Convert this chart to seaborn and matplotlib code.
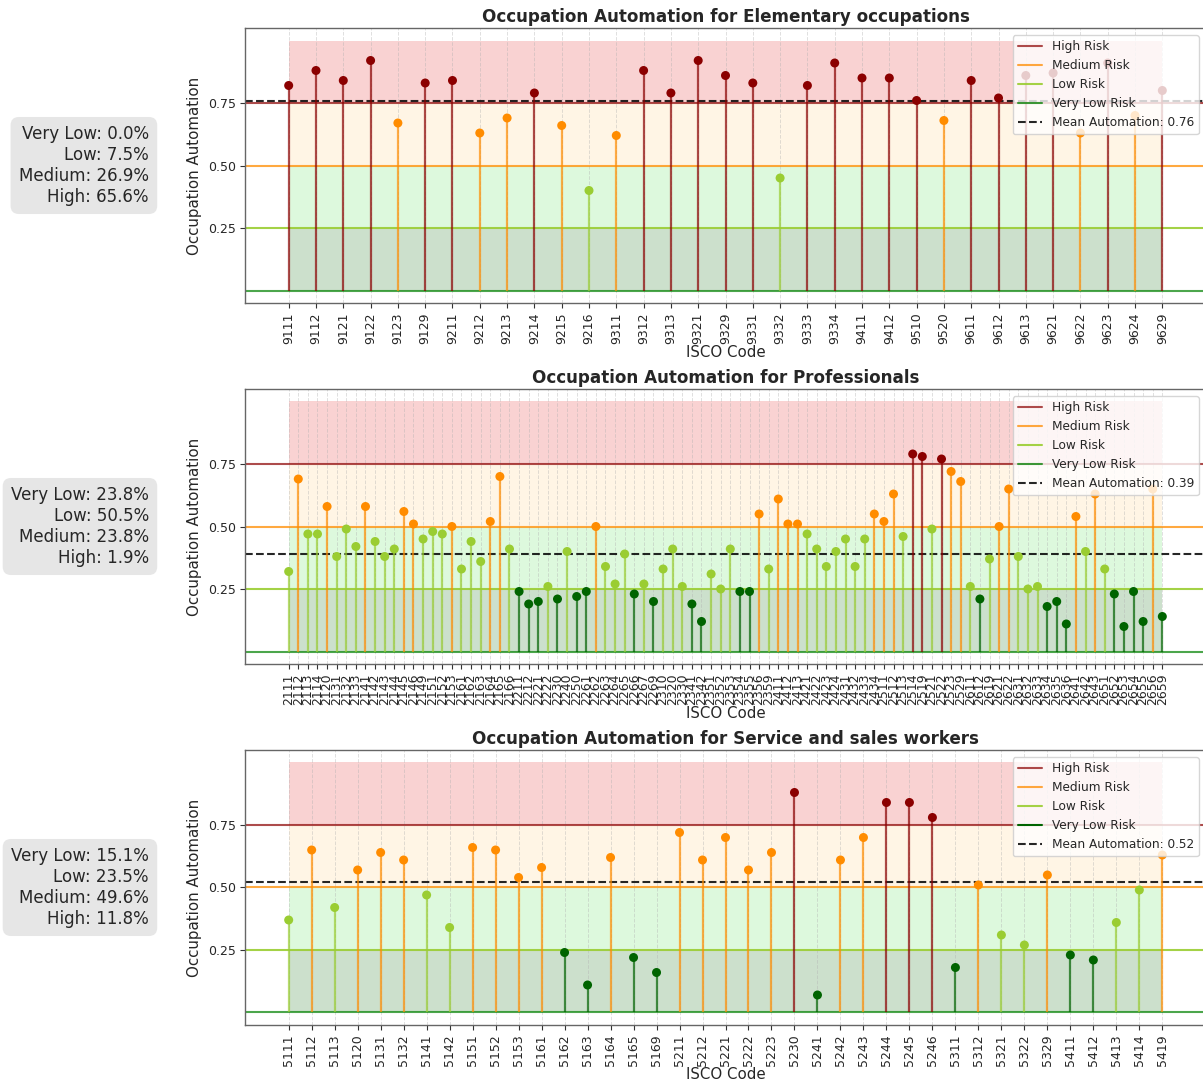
import numpy as np
import pandas as pd
import matplotlib
matplotlib.use("Agg")
import matplotlib.pyplot as plt
import seaborn as sns
from matplotlib.lines import Line2D

# ---- data -------------------------------------------------------------
elementary_codes = ["9111", "9112", "9121", "9122", "9123", "9129", "9211", "9212",
                    "9213", "9214", "9215", "9216", "9311", "9312", "9313", "9321",
                    "9329", "9331", "9332", "9333", "9334", "9411", "9412", "9510",
                    "9520", "9611", "9612", "9613", "9621", "9622", "9623", "9624",
                    "9629"]
elementary_values = [0.82, 0.88, 0.84, 0.92, 0.67, 0.83, 0.84, 0.63,
                     0.69, 0.79, 0.66, 0.40, 0.62, 0.88, 0.79, 0.92,
                     0.86, 0.83, 0.45, 0.82, 0.91, 0.85, 0.85, 0.76,
                     0.68, 0.84, 0.77, 0.86, 0.87, 0.63, 0.91, 0.70,
                     0.80]

professional_codes = ["2111", "2112", "2113", "2114", "2120", "2131", "2132", "2133",
                      "2141", "2142", "2143", "2144", "2145", "2146", "2149", "2151",
                      "2152", "2153", "2161", "2162", "2163", "2164", "2165", "2166",
                      "2211", "2212", "2221", "2222", "2230", "2240", "2250", "2261",
                      "2262", "2263", "2264", "2265", "2266", "2267", "2269", "2310",
                      "2320", "2330", "2341", "2342", "2351", "2352", "2353", "2354",
                      "2355", "2356", "2359", "2411", "2412", "2413", "2421", "2422",
                      "2423", "2424", "2431", "2432", "2433", "2434", "2511", "2512",
                      "2513", "2514", "2519", "2521", "2522", "2523", "2529", "2611",
                      "2612", "2619", "2621", "2622", "2631", "2632", "2633", "2634",
                      "2635", "2636", "2641", "2642", "2643", "2651", "2652", "2653",
                      "2654", "2655", "2656", "2659"]
professional_values = [0.32, 0.69, 0.47, 0.47, 0.58, 0.38, 0.49, 0.42,
                       0.58, 0.44, 0.38, 0.41, 0.56, 0.51, 0.45, 0.48,
                       0.47, 0.50, 0.33, 0.44, 0.36, 0.52, 0.70, 0.41,
                       0.24, 0.19, 0.20, 0.26, 0.21, 0.40, 0.22, 0.24,
                       0.50, 0.34, 0.27, 0.39, 0.23, 0.27, 0.20, 0.33,
                       0.41, 0.26, 0.19, 0.12, 0.31, 0.25, 0.41, 0.24,
                       0.24, 0.55, 0.33, 0.61, 0.51, 0.51, 0.47, 0.41,
                       0.34, 0.40, 0.45, 0.34, 0.45, 0.55, 0.52, 0.63,
                       0.46, 0.79, 0.78, 0.49, 0.77, 0.72, 0.68, 0.26,
                       0.21, 0.37, 0.50, 0.65, 0.38, 0.25, 0.26, 0.18,
                       0.20, 0.11, 0.54, 0.40, 0.63, 0.33, 0.23, 0.10,
                       0.24, 0.12, 0.65, 0.14]

service_codes = ["5111", "5112", "5113", "5120", "5131", "5132", "5141", "5142",
                 "5151", "5152", "5153", "5161", "5162", "5163", "5164", "5165",
                 "5169", "5211", "5212", "5221", "5222", "5223", "5230", "5241",
                 "5242", "5243", "5244", "5245", "5246", "5311", "5312", "5321",
                 "5322", "5329", "5411", "5412", "5413", "5414", "5419"]
service_values = [0.37, 0.65, 0.42, 0.57, 0.64, 0.61, 0.47, 0.34,
                  0.66, 0.65, 0.54, 0.58, 0.24, 0.11, 0.62, 0.22,
                  0.16, 0.72, 0.61, 0.70, 0.57, 0.64, 0.88, 0.07,
                  0.61, 0.70, 0.84, 0.84, 0.78, 0.18, 0.51, 0.31,
                  0.27, 0.55, 0.23, 0.21, 0.36, 0.49, 0.63]

group_names = ["Elementary occupations", "Professionals", "Service and sales workers"]
mean_automation = [0.76, 0.39, 0.52]

risk_levels = ["Very Low", "Low", "Medium", "High"]
elementary_shares = [0.0, 7.5, 26.9, 65.6]
professional_shares = [23.8, 50.5, 23.8, 1.9]
service_shares = [15.1, 23.5, 49.6, 11.8]

risk_bounds = [0.0, 0.25, 0.50, 0.75, 1.0]

# ---- styling ------------------------------------------------------------
sns.set_style("white")
plt.rcParams["font.family"] = ["DejaVu Sans"]

risk_colors = {"High": "darkred", "Medium": "darkorange",
               "Low": "yellowgreen", "Very Low": "darkgreen"}
band_styles = [("darkgreen", 0.2), ("lightgreen", 0.3),
               ("orange", 0.1), ("lightcoral", 0.35)]
line_styles = {0.75: ("darkred", 0.7), 0.50: ("darkorange", 0.75),
               0.25: ("yellowgreen", 0.9), 0.0: ("green", 0.7)}


def risk_of(v):
    if v >= 0.75:
        return "High"
    if v >= 0.5:
        return "Medium"
    if v >= 0.25:
        return "Low"
    return "Very Low"


fig = plt.figure(figsize=(12.03, 10.82), dpi=100)
axes = fig.subplots(3, 1)
fig.subplots_adjust(left=245 / 1203, right=1206 / 1203,
                    top=1 - 28 / 1082, bottom=1 - 1025 / 1082, hspace=0.3127)

groups = [
    (elementary_codes, elementary_values, elementary_shares),
    (professional_codes, professional_values, professional_shares),
    (service_codes, service_values, service_shares),
]

for k, (ax, (codes, values, shares)) in enumerate(zip(axes, groups)):
    df = pd.DataFrame({"code": codes, "value": values})
    df["pos"] = np.arange(len(df))
    df["risk"] = df["value"].map(risk_of)
    n = len(df)

    # shaded risk bands spanning the occupation range
    for (lo, hi), (col, a) in zip(zip(risk_bounds[:-1], risk_bounds[1:]), band_styles):
        ax.fill_between([0, n - 1], lo, hi, color=col, alpha=a, lw=0, zorder=0)

    # threshold lines
    for y, (col, a) in line_styles.items():
        ax.axhline(y, color=col, alpha=a, lw=1.5, zorder=1)

    # mean line
    ax.axhline(mean_automation[k], color="black", ls="--", lw=1.5, alpha=0.85, zorder=2)

    # stems
    for risk, sub in df.groupby("risk"):
        ax.vlines(sub["pos"], 0, sub["value"], colors=risk_colors[risk],
                  alpha=0.7, lw=1.6, zorder=2)

    # markers
    sns.scatterplot(data=df, x="pos", y="value", hue="risk", palette=risk_colors,
                    s=42, edgecolor="none", legend=False, ax=ax, zorder=3)

    ax.set_xticks(df["pos"], df["code"], rotation=90, fontsize=9)
    ax.set_yticks([0.25, 0.50, 0.75], ["0.25", "0.50", "0.75"], fontsize=9)
    ax.tick_params(axis="both", length=3.5, width=0.8, color="#333333",
                   bottom=True, left=True, pad=3)
    ax.set_xlim(-0.05 * (n - 1), (n - 1) * 1.05)
    ax.set_ylim(-0.05, 1.05)
    ax.grid(axis="x", ls="--", lw=0.7, color="#b0b0b0", alpha=0.4)
    for sp in ax.spines.values():
        sp.set_color("#666666")
        sp.set_linewidth(1.0)

    ax.set_xlabel("ISCO Code", fontsize=10.8, labelpad=1)
    ax.set_ylabel("Occupation Automation", fontsize=10.8)
    ax.set_title(f"Occupation Automation for {group_names[k]}",
                 fontsize=12.1, fontweight="bold", pad=4)

    vlow_color = "darkgreen" if k == 2 else "green"
    handles = [
        Line2D([], [], color="darkred", alpha=0.7, lw=1.5),
        Line2D([], [], color="darkorange", alpha=0.75, lw=1.5),
        Line2D([], [], color="yellowgreen", alpha=0.9, lw=1.5),
        Line2D([], [], color=vlow_color, alpha=0.75 if k != 2 else 1.0, lw=1.5),
        Line2D([], [], color="black", ls="--", lw=1.5, alpha=0.85),
    ]
    labels = ["High Risk", "Medium Risk", "Low Risk", "Very Low Risk",
              f"Mean Automation: {mean_automation[k]:.2f}"]
    leg = ax.legend(handles, labels, loc="upper right", fontsize=8.7,
                    framealpha=0.8, borderaxespad=0.6)
    leg.set_zorder(5)

    summary = "\n".join(f"{lvl}: {pct:.1f}%" for lvl, pct in zip(risk_levels, shares))
    ax.text(-0.1, 0.5, summary, transform=ax.transAxes, ha="right", va="center",
            fontsize=12, multialignment="right",
            bbox=dict(boxstyle="round,pad=0.5", facecolor="lightgray",
                      edgecolor="none", alpha=0.55))

fig.savefig("out.png", dpi=100)
